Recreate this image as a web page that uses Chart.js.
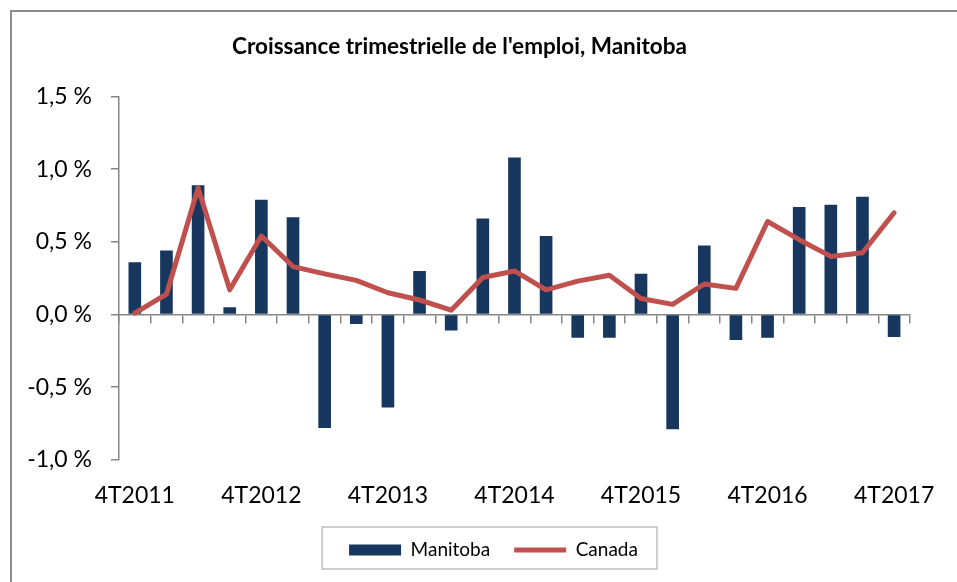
<!DOCTYPE html>
<html>
<head>
<meta charset="utf-8">
<script src="https://cdn.jsdelivr.net/npm/chart.js@4"></script>
<style>
  body { margin: 0; background: #fff; overflow: hidden; }
  #frame { position: absolute; left: 10px; top: 10px; width: 1200px; height: 800px;
           border-left: 2px solid #8c8c8c; border-top: 2px solid #8c8c8c; }
  #wrap { position: absolute; left: 0; top: 0; width: 957px; height: 582px; }
</style>
</head>
<body>
<div id="frame"></div>
<div id="wrap"><canvas id="c"></canvas></div>
<script>
// trimestres 4T2011 -> 4T2017
const quarters = [
  "4T2011","1T2012","2T2012","3T2012",
  "4T2012","1T2013","2T2013","3T2013",
  "4T2013","1T2014","2T2014","3T2014",
  "4T2014","1T2015","2T2015","3T2015",
  "4T2015","1T2016","2T2016","3T2016",
  "4T2016","1T2017","2T2017","3T2017",
  "4T2017"
];
const manitoba = [
  0.36, 0.44, 0.89, 0.05,
  0.79, 0.67, -0.78, -0.065,
  -0.64, 0.30, -0.11, 0.66,
  1.08, 0.54, -0.16, -0.16,
  0.28, -0.79, 0.475, -0.175,
  -0.16, 0.74, 0.755, 0.81,
  -0.155
];
const canada = [
  0.01, 0.14, 0.87, 0.17,
  0.54, 0.33, 0.28, 0.235,
  0.15, 0.10, 0.03, 0.255,
  0.30, 0.17, 0.23, 0.27,
  0.11, 0.07, 0.21, 0.18,
  0.64, 0.515, 0.40, 0.425,
  0.70
];
const yTicks = [-1.0, -0.5, 0.0, 0.5, 1.0, 1.5];

const axisGray = "#868686";
Chart.defaults.font.family = "Lato";
Chart.defaults.color = "#000";

// cadre autour de la légende + décalage
const legendFrame = {
  id: "legendFrame",
  afterUpdate(chart) {
    const lg = chart.legend;
    lg.left += 34; lg.right += 34;
    lg.adjustHitBoxes();
  },
  afterDraw(chart) {
    const lg = chart.legend;
    const hb = lg.legendHitBoxes;
    const l = Math.min(...hb.map(h => h.left)) - 27;
    const r = Math.max(...hb.map(h => h.left + h.width)) + 19;
    const t = lg.top + 10.5;
    const ctx = chart.ctx;
    ctx.save();
    ctx.strokeStyle = "#bfbfbf";
    ctx.lineWidth = 1.5;
    ctx.strokeRect(l, t, r - l, 42);
    ctx.restore();
  }
};

new Chart(document.getElementById("c"), {
  type: "bar",
  data: {
    labels: quarters,
    datasets: [
      {
        label: "Manitoba",
        data: manitoba,
        backgroundColor: "#17375E",
        borderWidth: 0,
        barPercentage: 0.4,
        categoryPercentage: 1,
        pointStyle: "rect",
        order: 2
      },
      {
        type: "line",
        label: "Canada",
        data: canada,
        borderColor: "#C0504D",
        backgroundColor: "#C0504D",
        borderWidth: 5,
        pointRadius: 0,
        tension: 0,
        borderJoinStyle: "round",
        borderCapStyle: "round",
        pointStyle: "line",
        order: 1
      }
    ]
  },
  options: {
    responsive: true,
    maintainAspectRatio: false,
    animation: false,
    layout: { padding: { left: 0, right: 38, top: 0, bottom: 12.5 } },
    plugins: {
      title: {
        display: true,
        text: "Croissance trimestrielle de l'emploi, Manitoba",
        font: { size: 22.5, weight: "bold" },
        padding: { top: 33, bottom: 36.5 }
      },
      legend: {
        position: "bottom",
        labels: {
          usePointStyle: true,
          pointStyleWidth: 52,
          boxHeight: 11,
          padding: 24,
          font: { size: 19 },
          sort: (a, b) => a.datasetIndex - b.datasetIndex
        }
      },
      tooltip: { enabled: false }
    },
    scales: {
      x: {
        type: "category",
        offset: true,
        border: { display: false },
        grid: { display: false, drawTicks: false, offset: true },
        ticks: {
          autoSkip: false,
          maxRotation: 0,
          padding: 22,
          font: { size: 23 },
          callback: (v, i) => (i % 4 === 0 ? quarters[i] : "")
        },
        afterFit: s => { s.height -= 15; }
      },
      x0: {
        type: "category",
        axis: "x",
        position: { y: 0 },
        offset: true,
        border: { display: true, color: axisGray, width: 1.5 },
        grid: { offset: true, drawOnChartArea: false, drawTicks: true, tickLength: 8, color: axisGray, lineWidth: 1.5 },
        ticks: { display: false }
      },
      y: {
        min: yTicks[0],
        max: yTicks[yTicks.length - 1],
        afterBuildTicks: s => { s.ticks = yTicks.map(v => ({ value: v })); },
        border: { display: true, color: axisGray, width: 1.5 },
        grid: { drawOnChartArea: false, drawTicks: true, tickLength: 8, color: axisGray, lineWidth: 1.5 },
        ticks: {
          padding: 19,
          font: { size: 23 },
          callback: v => v.toFixed(1).replace(".", ",") + " %"
        },
        afterFit: s => { s.width = 119; }
      }
    }
  },
  plugins: [legendFrame]
});
</script>
</body>
</html>
